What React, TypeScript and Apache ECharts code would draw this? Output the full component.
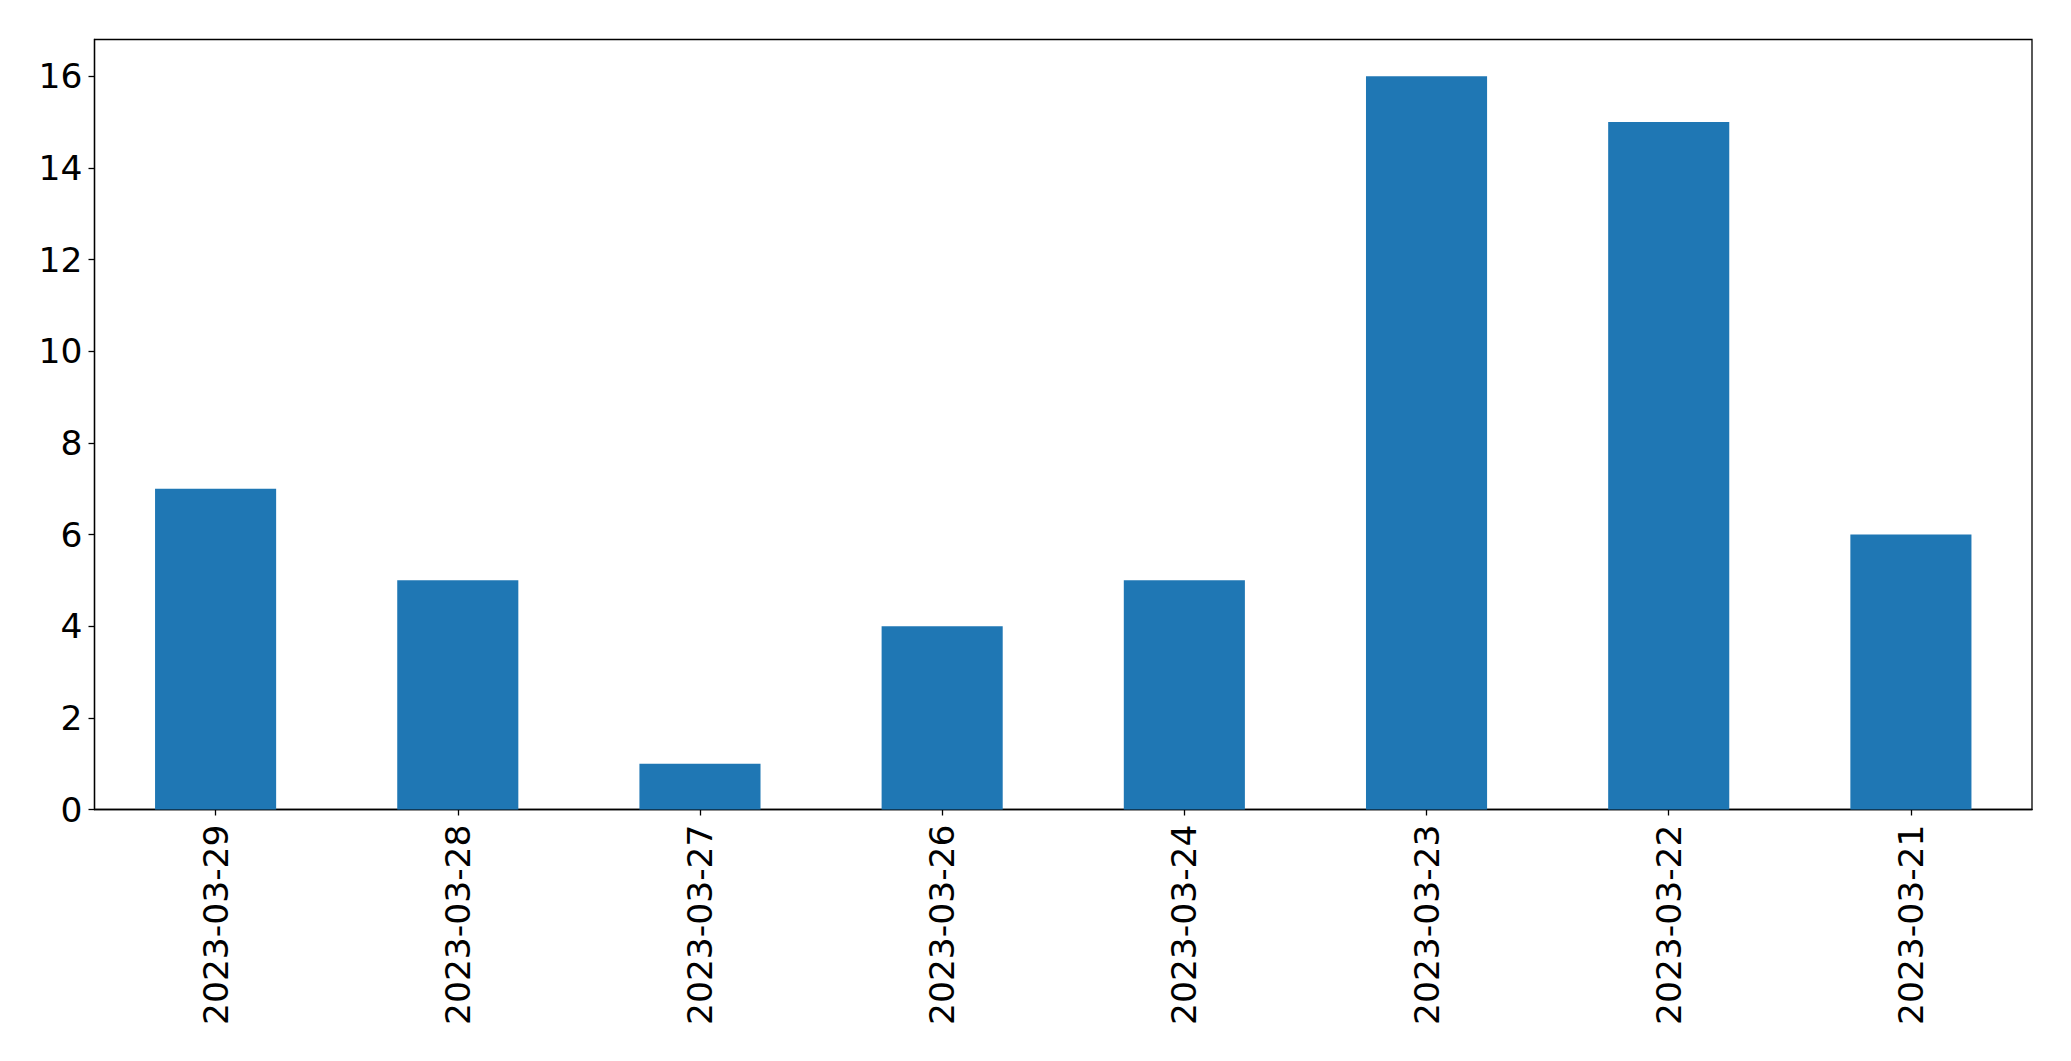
import React, { useEffect, useRef } from "react";
import * as echarts from "echarts";

const categories = ["2023-03-29", "2023-03-28", "2023-03-27", "2023-03-26", "2023-03-24", "2023-03-23", "2023-03-22", "2023-03-21"];
const counts = [7, 5, 1, 4, 5, 16, 15, 6];
const yTicks = [0, 2, 4, 6, 8, 10, 12, 14, 16];

export default function App() {
  const ref = useRef<HTMLDivElement>(null);
  useEffect(() => {
    if (!ref.current) return;
    const chart = echarts.init(ref.current, null, { renderer: "svg" });
    const font = "DejaVu Sans";
    chart.setOption({
      animation: false,
      backgroundColor: "#ffffff",
      grid: {
        left: 94.5,
        top: 39.5,
        right: 39,
        bottom: 251.5,
        show: true,
        borderColor: "#000000",
        borderWidth: 1.3,
        containLabel: false,
      },
      xAxis: {
        type: "category",
        data: categories,
        boundaryGap: true,
        axisLine: { show: true, lineStyle: { color: "#000000", width: 1.3 } },
        axisTick: { show: true, alignWithLabel: true, length: 6, lineStyle: { color: "#000000", width: 1.3 } },
        axisLabel: {
          rotate: 90,
          interval: 0,
          margin: 15,
          fontFamily: font,
          fontSize: 34.5,
          color: "#000000",
        },
        splitLine: { show: false },
      },
      yAxis: {
        type: "value",
        min: 0,
        max: 16.8,
        interval: 2,
        axisLine: { show: true, lineStyle: { color: "#000000", width: 1.3 } },
        axisTick: { show: true, length: 6, customValues: yTicks, lineStyle: { color: "#000000", width: 1.3 } },
        axisLabel: {
          customValues: yTicks,
          margin: 12,
          fontFamily: font,
          fontSize: 34.5,
          color: "#000000",
        },
        splitLine: { show: false },
      },
      series: [
        {
          type: "bar",
          data: counts,
          barWidth: "50%",
          itemStyle: { color: "#1f77b4" },
        },
      ],
    });
    return () => chart.dispose();
  }, []);
  return (
    <div
      ref={ref}
      style={{ position: "fixed", left: 0, top: 0, width: 2071, height: 1061, background: "#fff" }}
    />
  );
}
